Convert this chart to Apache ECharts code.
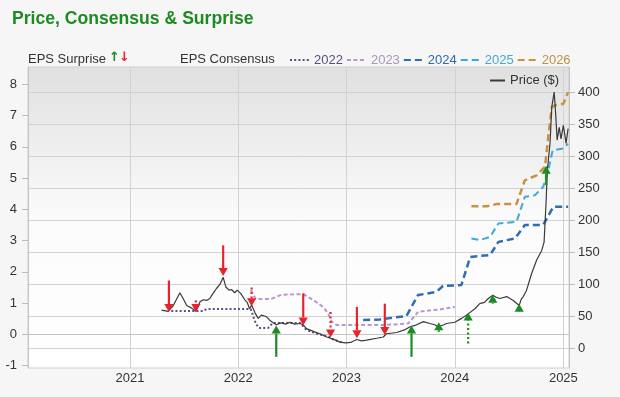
<!DOCTYPE html>
<html><head><meta charset="utf-8">
<script src="https://cdn.jsdelivr.net/npm/echarts@6/dist/echarts.min.js"></script>
<style>html,body{margin:0;padding:0;background:#f6f6f6;}#c{width:620px;height:397px;}</style>
</head><body><div id="c"></div>
<script>
// ---- data ----
const yearTicks = ['2021-01-01','2022-01-01','2023-01-01','2024-01-01','2025-01-01'];
const epsTicks = [-1,0,1,2,3,4,5,6,7,8];
const priceTicks = [0,50,100,150,200,250,300,350,400];
const consensusYears = ['2022','2023','2024','2025','2026'];

const price = [
 ['2021-04-17',60],['2021-05-10',58],['2021-05-27',67],['2021-06-18',87],['2021-06-29',78],
 ['2021-07-11',67],['2021-07-28',63],['2021-08-11',58],['2021-08-25',73],['2021-09-05',76],
 ['2021-09-16',75],['2021-09-27',78],['2021-10-08',86],['2021-10-20',94],['2021-10-31',100],
 ['2021-11-11',111],['2021-11-20',96],['2021-12-01',91],['2021-12-09',92],['2021-12-20',87],
 ['2021-12-28',91],['2022-01-09',86],['2022-01-23',76],['2022-01-31',72],['2022-02-08',62],
 ['2022-02-15',68],['2022-02-26',56],['2022-03-09',47],['2022-03-20',52],['2022-04-05',50],
 ['2022-04-15',45],['2022-04-29',40],['2022-05-09',37],['2022-05-25',40],['2022-06-10',38],
 ['2022-06-24',41],['2022-07-10',38],['2022-07-28',39],['2022-08-08',37],['2022-08-19',31],
 ['2022-09-15',26],['2022-10-03',23],['2022-10-26',18],['2022-11-15',15],['2022-12-10',10],
 ['2022-12-28',8.7],['2023-01-15',9.5],['2023-02-04',14],['2023-02-20',12],['2023-03-10',13],
 ['2023-04-13',16],['2023-05-05',18],['2023-05-15',23],['2023-06-19',25],['2023-07-15',29],
 ['2023-08-03',34],['2023-08-20',36],['2023-09-17',42],['2023-10-09',39],['2023-10-25',37],
 ['2023-11-06',34],['2023-11-25',37],['2023-12-04',39],['2024-01-01',41],['2024-01-24',47],
 ['2024-02-15',54],['2024-03-09',62],['2024-03-25',70],['2024-04-10',72],['2024-04-23',78],
 ['2024-05-08',83],['2024-05-20',80],['2024-06-01',78],['2024-06-24',81],['2024-07-16',75],
 ['2024-08-05',67],['2024-08-12',77],['2024-08-19',81],['2024-08-30',91],['2024-09-16',117],
 ['2024-10-03',138],['2024-10-20',153],['2024-10-28',166],['2024-11-04',231],['2024-11-08',278],
 ['2024-11-17',320],['2024-11-23',377],['2024-12-01',400],['2024-12-06',366],['2024-12-11',325],
 ['2024-12-18',345],['2024-12-24',327],['2025-01-01',348],['2025-01-06',333],['2025-01-10',320],
 ['2025-01-17',343]
];

const eps2022 = [
 ['2021-05-20',0.75],['2021-09-05',0.75],['2021-09-16',0.81],['2022-02-12',0.81],
 ['2022-03-01',0.35],['2022-03-11',0.21],['2022-04-12',0.21],['2022-04-28',0.37],
 ['2022-07-28',0.37],['2022-08-19',0.14],['2022-09-22',0.03],['2022-10-31',-0.07],
 ['2022-11-17',-0.16],['2022-12-15',-0.25]
];
const eps2023 = [
 ['2022-02-12',1.42],['2022-03-01',1.13],['2022-04-20',1.13],['2022-05-27',1.27],
 ['2022-08-08',1.29],['2022-09-11',1.1],['2022-10-14',0.88],['2022-10-31',0.67],
 ['2022-11-12',0.41],['2022-11-29',0.3],['2023-05-05',0.3],['2023-07-28',0.35],
 ['2023-08-31',0.73],['2023-11-12',0.8],['2024-01-01',0.88]
];
const eps2024 = [
 ['2023-02-26',0.46],['2023-04-24',0.48],['2023-07-22',0.59],['2023-08-30',1.26],
 ['2023-10-31',1.36],['2023-11-22',1.55],['2024-01-23',1.58],['2024-02-22',2.48],
 ['2024-04-29',2.54],['2024-05-27',2.96],['2024-07-22',3.07],['2024-08-24',3.5],
 ['2024-10-25',3.5],['2024-11-28',4.08],['2025-01-17',4.08]
];
const eps2025 = [
 ['2024-02-26',3.07],['2024-03-26',3.02],['2024-04-29',3.12],['2024-05-27',3.55],
 ['2024-07-27',3.6],['2024-08-24',4.4],['2024-09-27',4.45],['2024-10-25',4.72],
 ['2024-11-11',5.25],['2024-11-26',5.89],['2025-01-01',5.95],['2025-01-17',6.1]
];
const eps2026 = [
 ['2024-02-26',4.1],['2024-04-18',4.1],['2024-05-22',4.17],['2024-07-27',4.17],
 ['2024-08-24',4.93],['2024-10-03',5.09],['2024-10-31',5.36],['2024-11-11',6.32],
 ['2024-11-23',7.27],['2024-12-04',7.33],['2025-01-01',7.38],['2025-01-17',7.75]
];
// EPS surprise arrows: [date, arrow start (price), arrow tip (price), dotted shaft 1/0]
const surprises = [
 ['2021-05-12',106,57,0],['2021-08-11',75,57,1],['2021-11-11',161,113,0],['2022-02-15',95,66,1],
 ['2022-05-09',-13,36,0],['2022-08-08',86,36,0],['2022-11-08',57,17,1],['2023-02-05',65,16,0],
 ['2023-05-10',70,21,0],['2023-08-08',-13,36,0],['2023-11-08',26,41,0],['2024-02-15',8,56,1],
 ['2024-05-08',70,84,0],['2024-08-05',58,70,1],['2024-11-04',255,285,0]
];

// ---- styles ----
const FONT = 'Liberation Sans, Arial, sans-serif';
const yearColors = ['#5e4c86','#b996cc','#2f6cb1','#40a8d8','#c99243'];
const yearTextColors = ['#5c4d7d','#a898b8','#2f6aaa','#48a6d4','#c0904e'];
const yearDash = [[2,2.2],[4,2.5],[7,4],[7,4],[7,4]];
const yearWidth = [2,2,2.5,2,2.5];
const epsSeries = [eps2022, eps2023, eps2024, eps2025, eps2026];
const RED = '#e8232b', GREEN = '#1c8c22';

const chart = echarts.init(document.getElementById('c'), null, {renderer:'canvas'});
const ts = v => echarts.time.parse(v).getTime();
const toTs = arr => arr.map(r => [ts(r[0])].concat(r.slice(1)));

const series = consensusYears.map((y, i) => ({
  name: y, type: 'line', yAxisIndex: 0, data: toTs(epsSeries[i]),
  symbol: 'none', showSymbol: false,
  lineStyle: {color: yearColors[i], width: yearWidth[i], type: yearDash[i]},
  itemStyle: {color: yearColors[i]}, z: 3
}));
series.push({
  name: 'Price ($)', type: 'line', yAxisIndex: 1, data: toTs(price),
  symbol: 'none', showSymbol: false,
  lineStyle: {color: '#3a3a3a', width: 1.2}, itemStyle: {color: '#555'}, z: 4
});
series.push({
  name: 'EPS Surprise', type: 'custom', yAxisIndex: 1, data: toTs(surprises),
  encode: {x: 0, y: [1, 2]}, z: 6,
  renderItem: function (params, api) {
    const x = api.value(0), a = api.value(1), b = api.value(2), dotted = api.value(3);
    const p1 = api.coord([x, a]), p2 = api.coord([x, b]);
    const up = b > a;
    const col = up ? GREEN : RED;
    const dir = up ? -1 : 1;
    const h = 8, w = 4.6;
    const baseY = p2[1] - dir * h;
    return {type: 'group', children: [
      {type: 'line', shape: {x1: p1[0], y1: p1[1], x2: p2[0], y2: baseY},
       style: {stroke: col, lineWidth: 2.2, lineDash: dotted ? [2, 2.5] : null}},
      {type: 'polygon', shape: {points: [[p2[0]-w, baseY], [p2[0]+w, baseY], [p2[0], p2[1]]]},
       style: {fill: col}}
    ]};
  }
});

chart.setOption({
  animation: false,
  backgroundColor: '#f6f6f6',
  textStyle: {fontFamily: FONT},
  title: {text: 'Price, Consensus & Surprise', left: 7, top: 5,
    textStyle: {fontSize: 17.6, fontWeight: 'bold', color: '#1e8a22', fontFamily: FONT}},
  grid: {left: 28, right: 51, top: 67, bottom: 29, show: true,
    borderColor: '#cfcfcf', borderWidth: 1,
    backgroundColor: new echarts.graphic.LinearGradient(0, 0, 0, 1, [
      {offset: 0, color: '#e0e0e0'}, {offset: 0.5, color: '#fbfbfb'}, {offset: 1, color: '#ffffff'}])},
  legend: [
    {data: consensusYears.map((y, i) => ({name: y, textStyle: {color: yearTextColors[i]}})),
     left: 284, top: 48.5, itemWidth: 19, itemHeight: 10, itemGap: 3, selectedMode: false,
     itemStyle: {opacity: 0},
     textStyle: {fontSize: 13, fontFamily: FONT}},
    {data: ['Price ($)'], left: 484, top: 69, itemWidth: 15, itemHeight: 10, selectedMode: false,
     itemStyle: {opacity: 0},
     textStyle: {fontSize: 13, color: '#333', fontFamily: FONT}}
  ],
  graphic: [
    {type: 'text', left: 28, top: 52.5, style: {text: 'EPS Surprise', fontSize: 13, fill: '#333', fontFamily: FONT}},
    {type: 'text', left: 109, top: 51.5, style: {text: '↑', fontSize: 13, fontWeight: 'bold', fill: GREEN, fontFamily: 'DejaVu Sans'}},
    {type: 'text', left: 119, top: 51.5, style: {text: '↓', fontSize: 13, fontWeight: 'bold', fill: RED, fontFamily: 'DejaVu Sans'}},
    {type: 'text', left: 180, top: 52.5, style: {text: 'EPS Consensus', fontSize: 13, fill: '#333', fontFamily: FONT}}
  ],
  xAxis: {
    type: 'value', min: ts('2020-01-23'), max: ts('2025-01-20'),
    axisLine: {show: true, lineStyle: {color: '#c4c4c4'}},
    axisTick: {show: false, customValues: yearTicks.map(ts)},
    axisLabel: {customValues: yearTicks.map(ts), color: '#333', fontSize: 13, margin: 4,
      formatter: v => echarts.time.format(v, '{yyyy}')},
    splitLine: {show: true, lineStyle: {color: '#d2d2d2', width: 1}}
  },
  yAxis: [
    {type: 'value', position: 'left', min: -1.073, max: 8.553,
     axisLine: {show: true, lineStyle: {color: '#c4c4c4'}},
     axisTick: {show: true, length: 6, customValues: epsTicks, lineStyle: {color: '#bbb'}},
     axisLabel: {customValues: epsTicks, color: '#333', fontSize: 13, margin: 11},
     splitLine: {show: false}},
    {type: 'value', position: 'right', min: -30.4, max: 439.1,
     axisLine: {show: true, lineStyle: {color: '#c4c4c4'}},
     axisTick: {show: true, length: 6, customValues: priceTicks, lineStyle: {color: '#bbb'}},
     axisLabel: {customValues: priceTicks, color: '#333', fontSize: 13, margin: 9},
     splitLine: {show: true, lineStyle: {color: '#d2d2d2', width: 1}}}
  ],
  series: series
});
</script></body></html>
